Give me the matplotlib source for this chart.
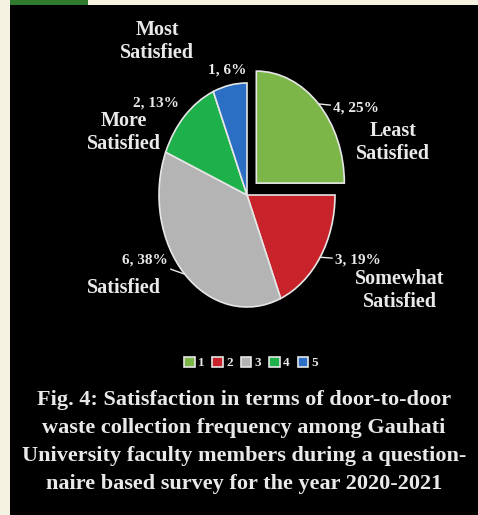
import matplotlib.pyplot as plt
import numpy as np
from matplotlib.patches import Rectangle

# survey responses, clockwise from 12 o'clock
categories = ["Least\nSatisfied", "Somewhat\nSatisfied", "Satisfied", "More\nSatisfied", "Most\nSatisfied"]
counts = [4, 3, 6, 2, 1]
percents = [25, 19, 38, 13, 6]
legend_labels = ["1", "2", "3", "4", "5"]
colors = ["#7cb648", "#c8232b", "#b4b4b4", "#1eb04b", "#2a6fc4"]
explode = [0.15, 0, 0, 0, 0]

# label layout in data units (x: 88 px, y: 112 px per unit)
value_pos = [(0.98, 0.78, "left"), (1.00, -0.58, "left"), (-0.90, -0.58, "right"),
             (-1.03, 0.82, "center"), (-0.22, 1.12, "center")]
name_pos = [(1.66, 0.47), (1.74, -0.85), (-1.40, -0.83), (-1.40, 0.56), (-1.02, 1.37)]
leader = [True, True, True, False, False]

W, H = 478, 515
TXT = "#e9e9e9"
SERIF = ["Liberation Serif", "DejaVu Serif"]

fig = plt.figure(figsize=(W / 100, H / 100), dpi=100)
fig.patch.set_facecolor("#f5f2e2")

# black panel with the page margin showing on the left and top
fig.add_artist(Rectangle((10 / W, 0), 1 - 10 / W, 1 - 5 / H, transform=fig.transFigure,
                         facecolor="black", edgecolor="none", zorder=-10))
fig.add_artist(Rectangle((10 / W, 1 - 5 / H), 78 / W, 5 / H, transform=fig.transFigure,
                         facecolor="#2f7a2f", edgecolor="none", zorder=-10))

cx, cy = 247, 195
ax = fig.add_axes([(cx - 2.6 * 88) / W, (H - cy - 1.6 * 112) / H, 5.2 * 88 / W, 3.2 * 112 / H])
wedges, _ = ax.pie(counts, colors=colors, explode=explode, startangle=90, counterclock=False,
                   wedgeprops=dict(edgecolor="#e6e6e6", linewidth=1.2))
ax.set_aspect("auto")
ax.set_xlim(-2.6, 2.6)
ax.set_ylim(-1.6, 1.6)
ax.axis("off")

for i, w in enumerate(wedges):
    vx, vy, ha = value_pos[i]
    text = f"{counts[i]}, {percents[i]}%"
    if leader[i]:
        mid = np.deg2rad((w.theta1 + w.theta2) / 2)
        ox, oy = w.center
        edge = (ox + np.cos(mid), oy + np.sin(mid))
        ax.annotate(text, xy=edge, xytext=(vx, vy), ha=ha, va="center", color=TXT,
                    fontsize=11, fontweight="bold", family=SERIF,
                    arrowprops=dict(arrowstyle="-", color=TXT, lw=1.0, shrinkA=0, shrinkB=0))
    else:
        ax.text(vx, vy, text, ha=ha, va="center", color=TXT,
                fontsize=11, fontweight="bold", family=SERIF)
    nx, ny = name_pos[i]
    ax.text(nx, ny, categories[i], ha="center", va="center", color=TXT,
            fontsize=14.5, fontweight="bold", family=SERIF, linespacing=1.2)

leg = fig.legend(wedges, legend_labels, loc="center", bbox_to_anchor=(251 / W, 1 - 363 / H),
                 ncol=5, frameon=False, labelcolor=TXT,
                 prop=dict(family=SERIF, size=9.5, weight="bold"),
                 handlelength=0.8, handleheight=0.8, handletextpad=0.25, columnspacing=0.6)

caption = ("Fig. 4: Satisfaction in terms of door-to-door\n"
           "waste collection frequency among Gauhati\n"
           "University faculty members during a question-\n"
           "naire based survey for the year 2020-2021")
fig.text(244 / W, 1 - 442 / H, caption, ha="center", va="center", color=TXT,
         fontsize=16, fontweight="bold", family=SERIF, linespacing=1.52)

fig.savefig("out.png", dpi=100, facecolor=fig.get_facecolor())
plt.close(fig)
